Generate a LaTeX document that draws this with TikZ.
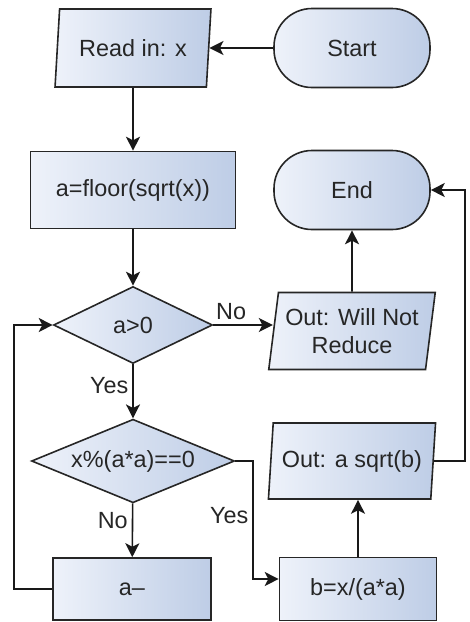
\documentclass[tikz,border=0pt]{standalone}
\usepackage{fontspec}
\setmainfont{Liberation Sans}
\usetikzlibrary{shapes.geometric, arrows.meta}

\definecolor{boxlight}{RGB}{238,242,250}
\definecolor{boxdark}{RGB}{190,205,230}

\begin{document}
\begin{tikzpicture}[x=0.5pt, y=-0.5pt,
    every node/.style={font=\fontsize{11.7}{14}\selectfont, text=black!85},
    box/.style={draw=black!85, line width=0.8pt, left color=boxlight,
                right color=boxdark, inner sep=0pt, align=center},
    proc/.style={box, rectangle},
    term/.style={box, rectangle, rounded corners=19pt,
                 minimum width=78pt, minimum height=39.5pt},
    io/.style={box, trapezium, trapezium left angle=79,
               trapezium right angle=101, trapezium stretches=true},
    decision/.style={box, diamond, aspect=2},
    arr/.style={-{Stealth[length=7pt, width=7pt, inset=1.8pt]},
                line width=0.8pt, draw=black!90},
    lbl/.style={inner sep=2pt}]

    \useasboundingbox (0,0) rectangle (470,622);

    % left column
    \node[io, minimum width=78pt, minimum height=39pt] (read) at (133,48) {Read in: x};
    \node[proc, minimum width=102.5pt, minimum height=38.5pt] (floor) at (133,190) {a=floor(sqrt(x))};
    \node[decision, minimum width=79.5pt, minimum height=38.5pt] (gtzero) at (133,325) {a>0};
    \node[decision, minimum width=101.5pt, minimum height=37.5pt] (divides) at (133,461) {x\%(a*a)==0};
    \node[proc, minimum width=79pt, minimum height=31pt] (dec) at (132,589) {a--};

    % right column
    \node[term] (start) at (352,48) {Start};
    \node[term] (end) at (352,190) {End};
    \node[io, minimum width=83.5pt, minimum height=38.5pt] (noreduce) at (352,331) {Out: Will Not\\Reduce};
    \node[io, minimum width=84pt, minimum height=38pt] (outroot) at (352,461) {Out: a sqrt(b)};
    \node[proc, minimum width=78.5pt, minimum height=31.5pt] (quot) at (358,589) {b=x/(a*a)};

    % bends
    \coordinate (loopback) at (14,589);
    \coordinate (yesbend) at (253,579);
    \coordinate (outback) at (465,461);

    % flow
    \draw[arr] (start) -- (read);
    \draw[arr] (read) -- (floor);
    \draw[arr] (floor) -- (gtzero);
    \draw[arr] (gtzero.east) -- node[lbl, above, pos=0.3] (nolbl1) {No} (gtzero.east -| noreduce.west);
    \draw[arr] (noreduce) -- (end);
    \draw[arr] (gtzero) -- node[lbl, left, pos=0.4] (yeslbl1) {Yes} (divides);
    \draw[arr] (divides) -- node[lbl, left, pos=0.32] (nolbl2) {No} (dec);
    \draw[arr] (divides.east) -| node[lbl, left, pos=0.73] (yeslbl2) {Yes} (yesbend) -- ([yshift=5pt]quot.west);
    \draw[arr] (dec.west) -- (loopback) |- (gtzero.west);
    \draw[arr] (quot.north) -- (quot.north |- outroot.south);
    \draw[arr] (outroot.east) -- (outback) |- (end.east);
\end{tikzpicture}
\end{document}
